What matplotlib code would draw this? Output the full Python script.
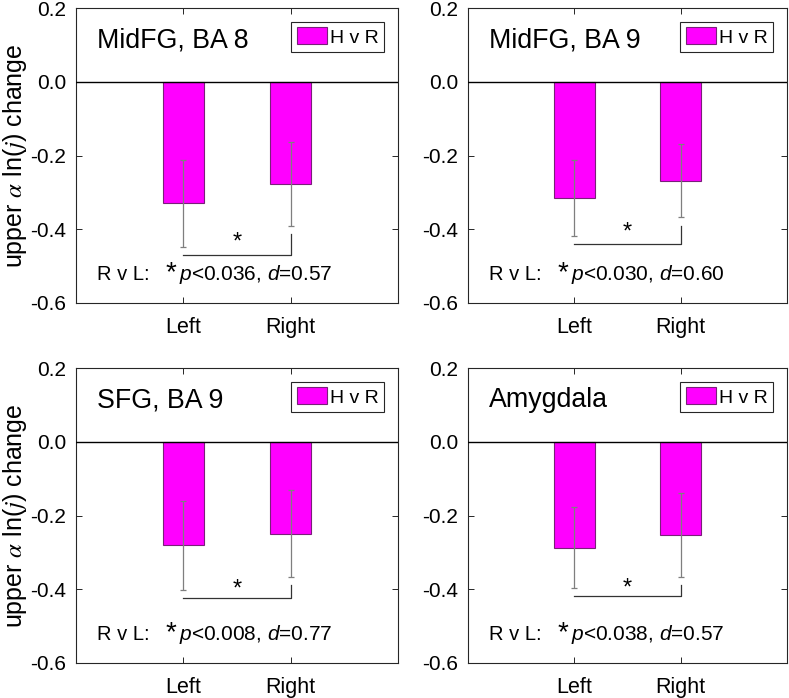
import matplotlib
matplotlib.use('Agg')
import matplotlib.pyplot as plt
from matplotlib.patches import Patch

plt.rcParams['font.family'] = ['Liberation Sans', 'DejaVu Sans']
plt.rcParams['axes.unicode_minus'] = False
plt.rcParams['mathtext.fontset'] = 'custom'
plt.rcParams['mathtext.rm'] = 'Liberation Sans'
plt.rcParams['mathtext.it'] = 'Liberation Sans:italic'

# data
regions = ['MidFG, BA 8', 'MidFG, BA 9', 'SFG, BA 9', 'Amygdala']
sides = ['Left', 'Right']
mean_left = [-0.330, -0.315, -0.281, -0.287]
mean_right = [-0.278, -0.268, -0.249, -0.253]
err_left = [0.117, 0.104, 0.120, 0.109]
err_right = [0.114, 0.099, 0.117, 0.113]
brk_low = [-0.469, -0.440, -0.425, -0.419]
brk_high = [-0.412, -0.390, -0.389, -0.389]
p_vals = ['0.036', '0.030', '0.008', '0.038']
d_vals = ['0.57', '0.60', '0.77', '0.57']
yticks = [0.2, 0.0, -0.2, -0.4, -0.6]

W, H = 789, 698
fig = plt.figure(figsize=(W / 100, H / 100), dpi=100)

# axes boxes in pixels: left, top, right, bottom
boxes = [(76, 8, 398, 303), (468, 8, 787, 303),
         (76, 368, 398, 663), (468, 368, 787, 663)]

mag = '#ff00ff'
for i, (l, t, r, b) in enumerate(boxes):
    ax = fig.add_axes([l / W, 1 - b / H, (r - l) / W, (b - t) / H])
    x = [1, 2]
    vals = [mean_left[i], mean_right[i]]
    errs = [err_left[i], err_right[i]]
    ax.bar(x, vals, width=0.38, color=mag, edgecolor='#7a1f7a', linewidth=0.8, zorder=2)
    ax.errorbar(x, vals, yerr=errs, fmt='none', ecolor='#7f7f7f', elinewidth=0.9,
                capsize=2, capthick=0.9, zorder=3)
    ax.axhline(0, color='black', lw=1.0, zorder=4)

    # significance bracket
    ax.plot([1, 2, 2], [brk_low[i], brk_low[i], brk_high[i]], color='#333333', lw=0.9, zorder=3)
    ax.text(1.5, (brk_low[i] + brk_high[i]) / 2 + 0.005, '*', ha='center', va='center',
            fontsize=17, zorder=5)

    ytxt = -0.523
    ax.text(0.2, ytxt, 'R v L:', fontsize=14.5, va='center', ha='left')
    ax.annotate('*', xy=(0.2, ytxt), xytext=(49, 1), textcoords='offset points',
                fontsize=20, va='center', ha='left')
    ax.annotate('$p$<' + p_vals[i] + ', $d$=' + d_vals[i], xy=(0.2, ytxt),
                xytext=(59, 0), textcoords='offset points', fontsize=15,
                va='center', ha='left')

    ax.text(0.2, 0.113, regions[i], fontsize=19.3, va='center', ha='left')

    ax.set_xlim(0, 3)
    ax.set_ylim(-0.6, 0.2)
    ax.set_xticks(x)
    ax.set_xticklabels(sides, fontsize=15.5)
    ax.set_yticks(yticks)
    ax.set_yticklabels(['%.1f' % v for v in yticks], fontsize=15)
    ax.tick_params(direction='in', top=True, right=True, length=4, width=0.7,
                   color='#262626', pad=7)
    ax.tick_params(axis='x', pad=10)
    for s in ax.spines.values():
        s.set_color('#262626')
        s.set_linewidth(0.8)

    leg = ax.legend(handles=[Patch(facecolor=mag, edgecolor='#7a1f7a', lw=0.8)],
                    labels=['H v R'], loc='upper right', fontsize=14,
                    fancybox=False, framealpha=1, edgecolor='#262626',
                    handlelength=1.55, handleheight=0.95, handletextpad=0.15,
                    borderpad=0.3, borderaxespad=0.7)
    leg.get_frame().set_linewidth(0.8)

    if l < 100:
        fig.text(15 / W, 1 - (t + b) / 2 / H, r'upper $\alpha$ ln($j$) change',
                 rotation=90, ha='center', va='center', fontsize=18,
                 math_fontfamily='stix')

fig.savefig('out.png', dpi=100)
